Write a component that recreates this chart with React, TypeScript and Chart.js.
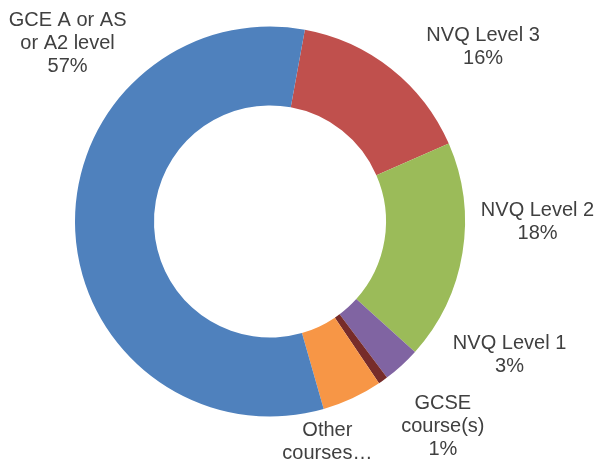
import React, { useEffect, useRef } from "react";
import { Chart, registerables } from "chart.js";

Chart.register(...registerables);

const categories: string[][] = [
  ["NVQ Level 3"],
  ["NVQ Level 2"],
  ["NVQ Level 1"],
  ["GCSE", "course(s)"],
  ["Other", "courses…"],
  ["GCE A or AS", "or A2 level"],
];
const values: number[] = [15.6, 18.2, 3.1, 0.8, 5.0, 57.3];
const colors: string[] = ["#C0504D", "#9BBB59", "#8064A2", "#772C2A", "#F79646", "#4F81BD"];
// label placement: [angle clockwise from top (deg), distance as fraction of outer radius]
const labelPolar: number[][] = [
  [50.7, 1.412],
  [90.1, 1.372],
  [119.1, 1.406],
  [139.9, 1.376],
  [166.1, 1.225],
  [311.4, 1.384],
];

const labelPlugin = {
  id: "outsideLabels",
  afterDatasetsDraw(chart: any) {
    const meta = chart.getDatasetMeta(0);
    const ctx = chart.ctx;
    const total = values.reduce((a, b) => a + b, 0);
    ctx.save();
    ctx.fillStyle = "#404040";
    ctx.font = "20px 'Liberation Sans', Arial, sans-serif";
    ctx.textAlign = "center";
    ctx.textBaseline = "middle";
    meta.data.forEach((arc: any, i: number) => {
      const { x, y, outerRadius } = arc.getProps(["x", "y", "outerRadius"], true);
      const [angDeg, f] = labelPolar[i];
      const a = (angDeg * Math.PI) / 180;
      const cx = x + Math.sin(a) * outerRadius * f;
      const cy = y - Math.cos(a) * outerRadius * f;
      const lines = [...categories[i], Math.round((values[i] / total) * 100) + "%"];
      const lh = 23;
      const startY = cy - ((lines.length - 1) * lh) / 2;
      lines.forEach((t, k) => ctx.fillText(t, cx, startY + k * lh));
    });
    ctx.restore();
  },
};

export default function App() {
  const ref = useRef<HTMLCanvasElement>(null);
  useEffect(() => {
    const chart = new Chart(ref.current!, {
      type: "doughnut",
      data: {
        labels: categories.map((c) => c.join(" ")),
        datasets: [
          {
            data: values,
            backgroundColor: colors,
            borderWidth: 0,
          },
        ],
      },
      options: {
        responsive: false,
        animation: false,
        rotation: 10.3,
        cutout: "59.5%",
        layout: { padding: { left: 75, right: 133, top: 26.5, bottom: 49.5 } },
        plugins: {
          legend: { display: false },
          tooltip: { enabled: false },
        },
      },
      plugins: [labelPlugin],
    });
    return () => chart.destroy();
  }, []);
  return (
    <div style={{ position: "fixed", left: 0, top: 0, width: 598, height: 466, background: "#fff" }}>
      <canvas ref={ref} width={598} height={466} />
    </div>
  );
}
